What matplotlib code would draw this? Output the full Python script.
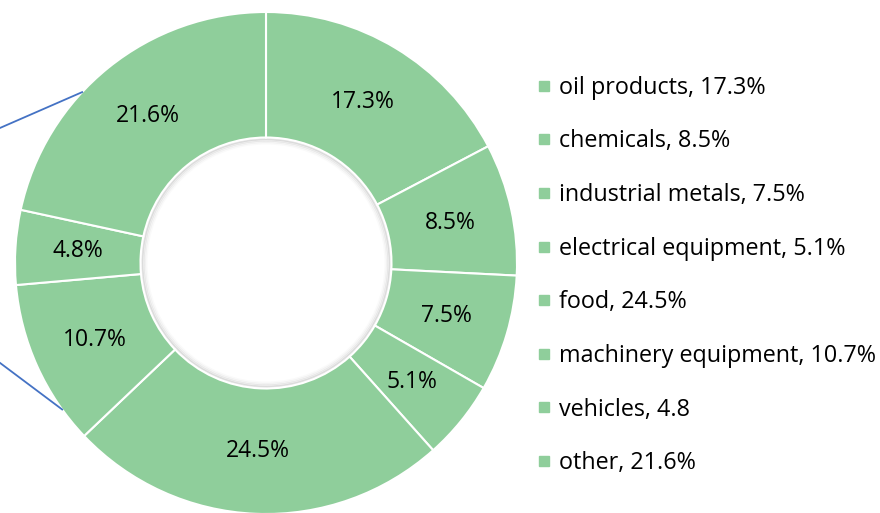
import matplotlib
matplotlib.use("Agg")
import matplotlib.pyplot as plt
from matplotlib.lines import Line2D
from matplotlib.patches import Circle
import numpy as np

plt.rcParams['font.family'] = ['Open Sans', 'DejaVu Sans']

categories = ["oil products", "chemicals", "industrial metals", "electrical equipment",
              "food", "machinery equipment", "vehicles", "other"]
values = [17.3, 8.5, 7.5, 5.1, 24.5, 10.7, 4.8, 21.6]
legend_labels = ["oil products, 17.3%", "chemicals, 8.5%", "industrial metals, 7.5%",
                 "electrical equipment, 5.1%", "food, 24.5%", "machinery equipment, 10.7%",
                 "vehicles, 4.8", "other, 21.6%"]
# connector lines (angles in degrees of the outer-edge endpoints)
connector_angles = [137.1, 215.7]
connector_ends = [0.538, -0.398]

green = "#8FCE9B"
W, H = 880, 513
fig = plt.figure(figsize=(W / 100, H / 100), dpi=100)
cx, cy, r = 266, 513 - 263, 251
ax = fig.add_axes([(cx - r) / W, (cy - r) / H, 2 * r / W, 2 * r / H])

wedges, texts, autotexts = ax.pie(
    values, startangle=90, counterclock=False, colors=[green] * len(values),
    radius=1.0, autopct=lambda p: f"{p:.1f}%", pctdistance=0.75,
    wedgeprops=dict(width=0.5, edgecolor="white", linewidth=1.5),
    textprops=dict(fontsize=16.5, color="black"))
# subtle inner shadow of the hole
for k, a in enumerate([0.22, 0.14, 0.08, 0.04]):
    ax.add_patch(Circle((0, 0), 0.494 - k * 0.006, fill=False, edgecolor="#808080",
                        alpha=a, linewidth=1.5, zorder=0.5))
ax.set_xlim(-1, 1)
ax.set_ylim(-1, 1)
ax.set_aspect("equal")
ax.axis("off")

x_left = (0 - cx) / r
for ang, yend in zip(connector_angles, connector_ends):
    t = np.deg2rad(ang)
    ax.plot([x_left, np.cos(t)], [yend, np.sin(t)], color="#4472C4", lw=1.3, clip_on=False)

handles = [Line2D([], [], marker="s", color=green, linestyle="", markersize=7.3) for _ in categories]
fig.legend(handles, legend_labels, loc="center left",
           bbox_to_anchor=(538 / W, (513 - 275.5) / H), frameon=False,
           fontsize=16.8, handlelength=0.5, handletextpad=0.4, labelspacing=1.27,
           borderaxespad=0, borderpad=0)

fig.savefig("out.png", dpi=100)
